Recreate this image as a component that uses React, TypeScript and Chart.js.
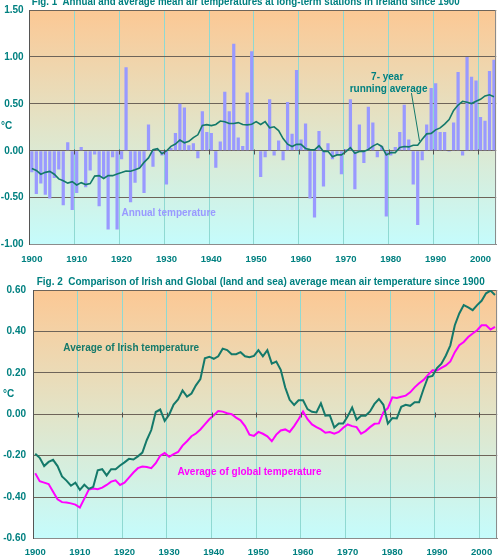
import { useEffect, useRef } from "react";
import { Chart, registerables } from "chart.js";

Chart.register(...registerables);

const FONT = "'Liberation Sans', Arial, sans-serif";
const TEAL = "#008080";
const IRISH = "#14796A";
const GLOBAL = "#FF00FF";
const BAR = "#9999FF";
const HGRID = "#6E6459";
const VGRID = "#8FD9D2";
const FRAME = "#8C8C8C";

// One category per year, 1900-2003
const years = Array.from({ length: 104 }, (_, i) => String(1900 + i));
const decadeLabels = ["1900", "1910", "1920", "1930", "1940", "1950", "1960", "1970", "1980", "1990", "2000"];

// Annual mean air temperature anomaly, Irish long-term stations (°C)
const annualAnomaly = [
  -0.23, -0.46, -0.35, -0.47, -0.51, -0.29, -0.2, -0.58, 0.09, -0.63,
  -0.45, 0.04, -0.39, -0.21, -0.04, -0.59, -0.28, -0.84, -0.07, -0.84,
  -0.09, 0.89, -0.55, -0.34, -0.18, -0.45, 0.28, -0.17, 0.02, -0.05,
  -0.36, 0.03, 0.19, 0.5, 0.46, 0.06, 0.08, -0.08, 0.42, 0.2,
  0.19, -0.18, 0.1, 0.63, 0.42, 1.14, 0.14, 0.05, 0.62, 1.06,
  0.0, -0.28, -0.07, 0.55, -0.05, 0.11, -0.1, 0.52, 0.18, 0.86,
  0.12, 0.29, -0.51, -0.71, 0.21, -0.38, 0.08, -0.09, -0.04, -0.25,
  0.02, 0.55, -0.41, 0.28, -0.13, 0.47, 0.3, -0.07, 0.05, -0.7,
  -0.05, 0.04, 0.2, 0.49, 0.12, -0.36, -0.79, -0.1, 0.28, 0.67,
  0.72, 0.2, 0.2, -0.01, 0.3, 0.84, -0.05, 1.0, 0.79, 0.75,
  0.36, 0.32, 0.85, 0.97,
];

// 7-year running average of the Irish series (°C)
const irishRunningMean = [
  -0.19, -0.21, -0.25, -0.23, -0.22, -0.25, -0.3, -0.32, -0.345, -0.33,
  -0.365, -0.34, -0.36, -0.35, -0.27, -0.265, -0.295, -0.265, -0.265, -0.247,
  -0.232, -0.215, -0.218, -0.203, -0.185, -0.124, -0.076, 0.011, 0.023, -0.032,
  -0.002, 0.047, 0.072, 0.115, 0.085, 0.1, 0.14, 0.17, 0.27, 0.278,
  0.268, 0.28, 0.317, 0.31, 0.29, 0.29, 0.3, 0.28, 0.276, 0.282,
  0.31, 0.28, 0.31, 0.245, 0.255, 0.215, 0.13, 0.07, 0.045, 0.068,
  0.068, 0.025, 0.012, 0.009, 0.053, -0.007, -0.005, -0.064, -0.044, -0.044,
  -0.01, 0.033, -0.026, -0.007, -0.007, 0.014, 0.05, 0.074, 0.046, -0.045,
  -0.018, -0.02, 0.036, 0.046, 0.041, 0.058, 0.058, 0.122, 0.18, 0.185,
  0.223, 0.244, 0.284, 0.333, 0.43, 0.487, 0.527, 0.516, 0.503, 0.527,
  0.548, 0.584, 0.597, 0.576,
];

// Running average of global (land and sea) temperature (°C)
const globalRunningMean = [
  -0.285, -0.323, -0.33, -0.337, -0.374, -0.41, -0.424, -0.426, -0.43, -0.436,
  -0.45, -0.407, -0.363, -0.358, -0.362, -0.354, -0.341, -0.325, -0.319, -0.341,
  -0.33, -0.306, -0.281, -0.26, -0.252, -0.254, -0.26, -0.236, -0.2, -0.187,
  -0.205, -0.192, -0.182, -0.151, -0.13, -0.106, -0.093, -0.073, -0.049, -0.024,
  -0.005, 0.016, 0.013, 0.005, 0.0, -0.016, -0.029, -0.057, -0.098, -0.104,
  -0.085, -0.094, -0.106, -0.13, -0.098, -0.078, -0.073, -0.085, -0.057, -0.024,
  0.013, -0.024, -0.049, -0.062, -0.073, -0.089, -0.086, -0.094, -0.085, -0.065,
  -0.049, -0.057, -0.062, -0.094, -0.081, -0.062, -0.046, -0.044, 0.01, 0.03,
  0.082, 0.079, 0.085, 0.09, 0.106, 0.13, 0.15, 0.166, 0.19, 0.213,
  0.211, 0.224, 0.236, 0.255, 0.3, 0.333, 0.349, 0.373, 0.39, 0.406,
  0.43, 0.43, 0.409, 0.422,
];

const fig1Title = "Fig. 1  Annual and average mean air temperatures at long-term stations in Ireland since 1900";
const fig2Title = "Fig. 2  Comparison of Irish and Global (land and sea) average mean air temperature since 1900";

// Background gradient, frame, zero-line ticks, titles and in-plot notes
const decor = {
  id: "decor",
  beforeDraw(chart: any) {
    const { ctx, chartArea: a } = chart;
    const g = ctx.createLinearGradient(0, a.top, 0, a.bottom);
    g.addColorStop(0, "#FCC894");
    g.addColorStop(0.5, "#E2E4C8");
    g.addColorStop(1, "#C5FCFC");
    ctx.save();
    ctx.fillStyle = g;
    ctx.fillRect(a.left, a.top, a.right - a.left, a.bottom - a.top);
    ctx.restore();
  },
  afterDraw(chart: any, _args: any, opts: any) {
    const { ctx, chartArea: a, scales } = chart;
    const xs = scales.x;
    const ys = scales.y;
    const px = (year: number) => xs.getPixelForValue(year - 1900);
    const py = (v: number) => ys.getPixelForValue(v);
    ctx.save();

    // right edge of the plot frame
    ctx.strokeStyle = FRAME;
    ctx.lineWidth = 1;
    ctx.beginPath();
    const rx = Math.round(a.right) - 0.5;
    ctx.moveTo(rx, a.top);
    ctx.lineTo(rx, a.bottom);
    ctx.stroke();

    // small tick marks where the decade lines cross zero
    const half = (px(1901) - px(1900)) / 2;
    const y0 = Math.round(py(0)) + 0.5;
    ctx.strokeStyle = "#505050";
    ctx.beginPath();
    decadeLabels.slice(1).forEach((lab) => {
      const gx = Math.round(px(Number(lab)) - half) + 0.5;
      ctx.moveTo(gx, y0 - 2);
      ctx.lineTo(gx, y0 + 3);
    });
    ctx.stroke();

    ctx.font = `bold 10px ${FONT}`;
    ctx.textBaseline = "alphabetic";

    if (opts.title) {
      ctx.fillStyle = TEAL;
      ctx.textAlign = "left";
      ctx.fillText(opts.title.text, opts.title.left, opts.title.baseline, opts.title.width);
    }
    if (opts.unit) {
      ctx.fillStyle = TEAL;
      ctx.textAlign = "left";
      ctx.fillText("°C", opts.unit.left, py(opts.unit.value));
    }
    (opts.notes || []).forEach((n: any) => {
      ctx.fillStyle = n.color;
      ctx.textAlign = "center";
      ctx.fillText(n.text, px(n.year), py(n.value));
    });
    if (opts.leader) {
      const l = opts.leader;
      ctx.strokeStyle = l.color;
      ctx.lineWidth = 1;
      ctx.beginPath();
      ctx.moveTo(px(l.from[0]), py(l.from[1]));
      ctx.lineTo(px(l.to[0]), py(l.to[1]));
      ctx.stroke();
    }
    ctx.restore();
  },
};

function xAxis(padding: number) {
  return {
    type: "category" as const,
    offset: true,
    grid: {
      offset: true,
      drawTicks: false,
      color: (c: any) => (c.index !== undefined && c.index % 10 === 0 ? VGRID : "rgba(0,0,0,0)"),
      lineWidth: 1,
    },
    border: { color: FRAME, width: 1 },
    ticks: {
      autoSkip: false,
      maxRotation: 0,
      minRotation: 0,
      padding,
      color: TEAL,
      font: { family: FONT, size: 9.5, weight: "bold" as const },
      callback: (_v: any, i: number) => (decadeLabels.includes(years[i]) ? years[i] : ""),
    },
  };
}

function yAxis(min: number, max: number, step: number, width: number, padding: number) {
  return {
    min,
    max,
    afterFit: (s: any) => {
      s.width = width;
    },
    grid: { color: HGRID, drawTicks: false, lineWidth: 1 },
    border: { color: "#555555", width: 1 },
    ticks: {
      stepSize: step,
      padding,
      color: TEAL,
      font: { family: FONT, size: 10, weight: "bold" as const },
      callback: (v: any) => Number(v).toFixed(2),
    },
  };
}

function AnnualChart() {
  const ref = useRef<HTMLCanvasElement>(null);
  useEffect(() => {
    const chart = new Chart(ref.current!, {
      type: "bar",
      data: {
        labels: years,
        datasets: [
          {
            type: "line",
            label: "7- year running average",
            data: irishRunningMean,
            borderColor: IRISH,
            borderWidth: 1.6,
            pointRadius: 0,
            tension: 0,
            order: 0,
          } as any,
          {
            type: "bar",
            label: "Annual temperature",
            data: annualAnomaly,
            backgroundColor: BAR,
            borderWidth: 0,
            barPercentage: 0.72,
            categoryPercentage: 1,
            order: 1,
          },
        ],
      },
      options: {
        responsive: false,
        animation: false,
        layout: { padding: { left: 0, right: 3.7, top: 20, bottom: 3 } },
        plugins: {
          legend: { display: false },
          tooltip: { enabled: false },
          decor: {
            title: { text: fig1Title, left: 31.7, baseline: 14.5, width: 428 },
            unit: { left: 1, value: 0.23 },
            notes: [
              { text: "Annual temperature", year: 1930.5, value: -0.69, color: BAR },
              { text: "7- year", year: 1979.2, value: 0.75, color: TEAL },
              { text: "running average", year: 1979.5, value: 0.63, color: TEAL },
            ],
            leader: { from: [1984.6, 0.615], to: [1986.4, 0.103], color: IRISH },
          },
        } as any,
        scales: {
          x: xAxis(9),
          y: yAxis(-1, 1.5, 0.5, 29.6, 6),
        } as any,
      },
      plugins: [decor],
    });
    return () => chart.destroy();
  }, []);
  return <canvas ref={ref} width={503} height={287} style={{ display: "block" }} />;
}

function ComparisonChart() {
  const ref = useRef<HTMLCanvasElement>(null);
  useEffect(() => {
    const chart = new Chart(ref.current!, {
      type: "line",
      data: {
        labels: years,
        datasets: [
          {
            label: "Average of Irish temperature",
            data: irishRunningMean,
            borderColor: IRISH,
            borderWidth: 2,
            pointRadius: 0,
            tension: 0,
          },
          {
            label: "Average of global temperature",
            data: globalRunningMean,
            borderColor: GLOBAL,
            borderWidth: 2,
            pointRadius: 0,
            tension: 0,
          },
        ],
      },
      options: {
        responsive: false,
        animation: false,
        layout: { padding: { left: 0, right: 3, top: 24, bottom: 1 } },
        plugins: {
          legend: { display: false },
          tooltip: { enabled: false },
          decor: {
            title: { text: fig2Title, left: 36.7, baseline: 19, width: 448 },
            unit: { left: 3, value: 0.085 },
            notes: [
              { text: "Average of Irish temperature", year: 1921.5, value: 0.305, color: IRISH },
              { text: "Average of global temperature", year: 1948, value: -0.294, color: GLOBAL },
            ],
          },
        } as any,
        scales: {
          x: xAxis(8),
          y: yAxis(-0.6, 0.6, 0.2, 33, 7),
        } as any,
      },
      plugins: [decor],
    });
    return () => chart.destroy();
  }, []);
  return <canvas ref={ref} width={503} height={301} style={{ display: "block" }} />;
}

export default function App() {
  return (
    <div
      style={{
        position: "absolute",
        left: 0,
        top: 0,
        width: 503,
        height: 557,
        overflow: "hidden",
        background: "#ffffff",
      }}
    >
      <div style={{ position: "absolute", left: 0, top: -10 }}>
        <AnnualChart />
      </div>
      <div style={{ position: "absolute", left: 0, top: 266 }}>
        <ComparisonChart />
      </div>
    </div>
  );
}
